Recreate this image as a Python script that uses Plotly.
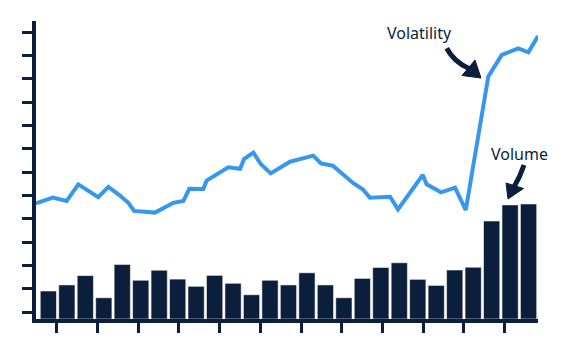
import plotly.graph_objects as go

# ---- data ----
bar_x = list(range(27))
volume = [12.0, 14.6, 18.6, 9.1, 23.4, 16.6, 20.9, 17.1, 14.0, 18.7, 15.3, 10.4, 16.6, 14.6,
          19.8, 14.6, 9.1, 17.4, 22.1, 24.1, 17.0, 14.4, 21.0, 22.2, 42.0, 48.9, 49.3]

vol_x = [-0.67, 0.24, 0.99, 1.62, 2.70, 3.25, 3.84, 4.33, 4.64, 5.77, 6.77, 7.31, 7.63, 8.39,
         8.57, 9.74, 10.38, 10.59, 11.10, 11.51, 12.04, 13.08, 14.34, 14.76, 15.40, 16.51,
         17.02, 17.41, 18.50, 18.93, 20.27, 20.48, 21.26, 22.02, 22.60, 23.82, 24.55, 25.44,
         25.99, 26.51]
volatility = [49.6, 52.0, 50.6, 57.7, 52.2, 56.6, 53.1, 49.8, 46.3, 45.6, 49.8, 50.6, 55.8, 55.7,
              59.3, 65.0, 64.4, 68.5, 71.3, 66.3, 62.4, 67.4, 70.0, 66.7, 65.7, 58.2,
              55.6, 52.0, 52.4, 47.0, 61.7, 57.7, 54.3, 56.3, 46.7, 103.9, 113.2, 116.0,
              114.3, 121.3]

x_ticks = [0.45, 2.66, 4.86, 7.07, 9.27, 11.48, 13.68, 15.89, 18.09, 20.30, 22.50, 24.71]
y_ticks = [2.9 + 10 * k for k in range(13)]

NAVY = "#0b1e3b"
BLUE = "#3797ef"

OFF = 8  # default page body margin
W, H = 568 - OFF, 358 - OFF
ML, MR, MT, MB = 36 - OFF, 30, 21 - OFF, 39
PW, PH = W - ML - MR, H - MT - MB


def px(x, y):
    """window pixel -> paper fraction"""
    x -= OFF
    y -= OFF
    return (x - ML) / PW, (H - MB - y) / PH


fig = go.Figure()
fig.add_trace(go.Bar(x=bar_x, y=volume, marker=dict(color=NAVY,
                     line=dict(color="rgba(255,255,255,0.55)", width=1)), width=0.88))
fig.add_trace(go.Scatter(x=vol_x, y=volatility, mode="lines",
                         line=dict(color=BLUE, width=4), cliponaxis=True))

shapes = []
# Volatility arrow (curved shaft + head)
a0 = px(446.7, 48.3); ac = px(454, 62); a1 = px(469, 68.5)
shapes.append(dict(type="path", xref="paper", yref="paper",
                   path=f"M {a0[0]},{a0[1]} Q {ac[0]},{ac[1]} {a1[0]},{a1[1]}",
                   line=dict(color=NAVY, width=5)))
h1, h2, h3 = px(462, 75.5), px(475, 60), px(481, 78)
shapes.append(dict(type="path", xref="paper", yref="paper",
                   path=f"M {h1[0]},{h1[1]} L {h2[0]},{h2[1]} L {h3[0]},{h3[1]} Z",
                   fillcolor=NAVY, line=dict(color=NAVY, width=1)))
# Volume arrow
b0 = px(524, 165); bc = px(520, 177); b1 = px(514, 187)
shapes.append(dict(type="path", xref="paper", yref="paper",
                   path=f"M {b0[0]},{b0[1]} Q {bc[0]},{bc[1]} {b1[0]},{b1[1]}",
                   line=dict(color=NAVY, width=5)))
g1, g2, g3 = px(506, 183), px(523.5, 188.5), px(508, 199)
shapes.append(dict(type="path", xref="paper", yref="paper",
                   path=f"M {g1[0]},{g1[1]} L {g2[0]},{g2[1]} L {g3[0]},{g3[1]} Z",
                   fillcolor=NAVY, line=dict(color=NAVY, width=1)))

t1 = px(419.5, 33.5)
t2 = px(519.5, 153.5)
annotations = [
    dict(text="Volatility", xref="paper", yref="paper", x=t1[0], y=t1[1],
         showarrow=False, xanchor="center", yanchor="middle",
         font=dict(family="Noto Sans", size=16, color=NAVY)),
    dict(text="Volume", xref="paper", yref="paper", x=t2[0], y=t2[1],
         showarrow=False, xanchor="center", yanchor="middle",
         font=dict(family="Noto Sans", size=16, color=NAVY)),
]

fig.update_layout(
    width=W, height=H, margin=dict(l=ML, r=MR, t=MT, b=MB),
    paper_bgcolor="white", plot_bgcolor="white", showlegend=False,
    bargap=0.12, shapes=shapes, annotations=annotations,
    xaxis=dict(range=[-0.67, 26.51], showgrid=False, zeroline=False, showline=True,
               linecolor=NAVY, linewidth=4, ticks="outside", tickvals=x_ticks,
               ticklen=10, tickwidth=3, tickcolor=NAVY, showticklabels=False),
    yaxis=dict(range=[0, 127.7], showgrid=False, zeroline=False, showline=True,
               linecolor=NAVY, linewidth=4, ticks="outside", tickvals=y_ticks,
               ticklen=10, tickwidth=3, tickcolor=NAVY, showticklabels=False),
)

fig.write_html("out.html")
